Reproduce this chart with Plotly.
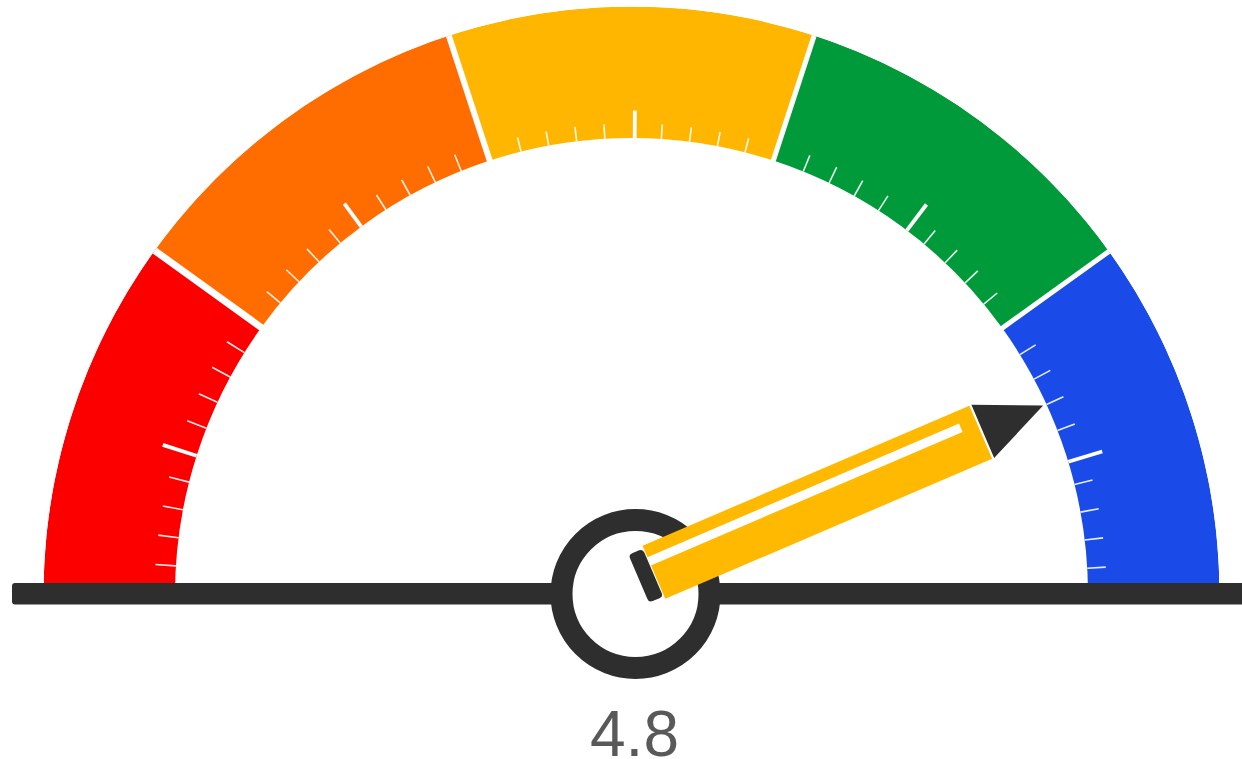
import math
import numpy as np
import plotly.graph_objects as go

# ---- data ----
band_edges = [180.0, 144.2, 108.1, 71.9, 35.7, 0.0]
band_colors = ["#FC0000", "#FF6D00", "#FFB600", "#009A3B", "#1A4BE8"]
separator_widths = [7, 6, 5, 5]
major_ticks = [162.3, 126.3, 89.6, 52.9, 16.9]
minor_centres = [162.2, 126.1, 89.8, 53.7, 17.5]
minor_steps = [-4, -3, -2, -1, 1, 2, 3, 4]
needle_value = 4.8
scale_max = 5.51

# ---- geometry (one axis unit is one pixel) ----
W, H = 1242, 759
CX, CY, R_OUT, R_IN = 631.5, 594.5, 588, 456.5
MINOR_DEG = 3.55
minor_radii = [477, 474, 471, 474, 475]
major_radii = [492, 485, 484, 489, 492]
DARK, PENCIL, TEXT = "#2E2E2E", "#FFB900", "#595959"
HUB_X, HUB_Y, HUB_R, HUB_W = 4.0, 0.5, 74, 22
LINE_X0, LINE_Y0, LINE_Y1 = -619.5, 11.5, -10.0
PIVOT = (22.4, 22.2)  # near end of the pencil, relative to the gauge centre


def needle_xy(along, across, ang):
    a = math.radians(ang)
    along, across = np.array(along, float), np.array(across, float)
    return (PIVOT[0] + along * math.cos(a) + across * math.sin(a),
            PIVOT[1] + along * math.sin(a) - across * math.cos(a))


def poly_path(along, across, ang):
    xs, ys = needle_xy(along, across, ang)
    return "M" + " L".join(f"{x:.2f},{y:.2f}" for x, y in zip(xs, ys)) + " Z"


def rounded_path(a0, a1, c0, c1, rad, ang):
    keys = [(a0 + rad, c0), (a1 - rad, c0), (a1, c0), (a1, c0 + rad), (a1, c1 - rad), (a1, c1),
            (a1 - rad, c1), (a0 + rad, c1), (a0, c1), (a0, c1 - rad), (a0, c0 + rad), (a0, c0)]
    xs, ys = needle_xy([k[0] for k in keys], [k[1] for k in keys], ang)
    p = list(zip(xs, ys))
    d = f"M{p[0][0]:.2f},{p[0][1]:.2f} "
    for l, q, e in [(1, 2, 3), (4, 5, 6), (7, 8, 9), (10, 11, 0)]:
        d += (f"L{p[l][0]:.2f},{p[l][1]:.2f} "
              f"Q{p[q][0]:.2f},{p[q][1]:.2f} {p[e][0]:.2f},{p[e][1]:.2f} ")
    return d + "Z"


angle = 180 * (1 - needle_value / scale_max)
fig = go.Figure()

# bands
for lo, hi, c in zip(band_edges[1:], band_edges[:-1], band_colors):
    fig.add_trace(go.Barpolar(r=[R_OUT - R_IN], base=[R_IN], theta=[(lo + hi) / 2], width=[hi - lo],
                              marker=dict(color=c, line=dict(width=0))))

# separators between bands
for t, w in zip(band_edges[1:-1], separator_widths):
    fig.add_trace(go.Scatterpolar(r=[R_IN - 4, R_OUT], theta=[t, t], mode="lines",
                                  line=dict(color="white", width=w)))

# ticks
minor_r, minor_t = [], []
for c, rm in zip(minor_centres, minor_radii):
    for s in minor_steps:
        minor_r += [R_IN, rm, None]
        minor_t += [c + s * MINOR_DEG, c + s * MINOR_DEG, None]
major_r, major_t = [], []
for m, rm in zip(major_ticks, major_radii):
    major_r += [R_IN, rm, None]
    major_t += [m, m, None]
fig.add_trace(go.Scatterpolar(r=minor_r, theta=minor_t, mode="lines",
                              line=dict(color="rgba(255,255,255,0.9)", width=1.6)))
fig.add_trace(go.Scatterpolar(r=major_r, theta=major_t, mode="lines",
                              line=dict(color="white", width=3.8)))

# invisible anchor so the pixel-scaled cartesian axes exist
fig.add_trace(go.Scatter(x=[0], y=[0], mode="markers", marker=dict(opacity=0), hoverinfo="skip"))

shapes = []
# base line, with slightly rounded left end
shapes.append(dict(type="path", xref="x", yref="y", line_width=0, fillcolor=DARK,
                   path=(f"M{W-CX+5},{LINE_Y1} L{LINE_X0+3},{LINE_Y1} Q{LINE_X0},{LINE_Y1} {LINE_X0},{LINE_Y1+3} "
                         f"L{LINE_X0},{LINE_Y0-3} Q{LINE_X0},{LINE_Y0} {LINE_X0+3},{LINE_Y0} L{W-CX+5},{LINE_Y0} Z")))
# hub ring
shapes.append(dict(type="circle", xref="x", yref="y",
                   x0=HUB_X - HUB_R, x1=HUB_X + HUB_R, y0=HUB_Y - HUB_R, y1=HUB_Y + HUB_R,
                   fillcolor="white", line=dict(color=DARK, width=HUB_W)))
# pencil: eraser, body, highlight, point
shapes.append(dict(type="path", xref="x", yref="y", line_width=0, fillcolor=DARK,
                   path=rounded_path(-16.5, -1, -26, 26, 4, angle)))
shapes.append(dict(type="path", xref="x", yref="y", line_width=0, fillcolor=PENCIL,
                   path=poly_path([0, 355.6, 355.6, 0], [-28.9, -28.9, 28.9, 28.9], angle)))
shapes.append(dict(type="path", xref="x", yref="y", line_width=0, fillcolor="white",
                   path=poly_path([0, 339, 339, 0], [-16.5, -16.5, -7.5, -7.5], angle)))
shapes.append(dict(type="path", xref="x", yref="y", line_width=0, fillcolor=DARK,
                   path=poly_path([357.8, 423.5, 357.8], [-28.9, 0, 28.9], angle)))

fig.update_layout(
    width=W, height=H, showlegend=False, paper_bgcolor="white", plot_bgcolor="white",
    margin=dict(l=0, r=0, t=0, b=0), shapes=shapes,
    xaxis=dict(range=[-CX, W - CX], visible=False, domain=[0, 1], fixedrange=True),
    yaxis=dict(range=[CY - H, CY], visible=False, domain=[0, 1], fixedrange=True),
    polar=dict(
        domain=dict(x=[(CX - R_OUT) / W, (CX + R_OUT) / W],
                    y=[(H - CY) / H, (H - CY + R_OUT) / H]),
        sector=[0, 180], bgcolor="rgba(0,0,0,0)",
        radialaxis=dict(range=[0, R_OUT], visible=False),
        angularaxis=dict(visible=False, direction="counterclockwise", rotation=0),
    ),
    annotations=[dict(text=str(needle_value), x=634 / W, y=(H - 734) / H, xref="paper", yref="paper",
                      xanchor="center", yanchor="middle", showarrow=False,
                      font=dict(family="Liberation Sans, Arial, sans-serif", size=64, color=TEXT))],
)

fig.write_html("out.html", config={"displayModeBar": False},
               post_script="document.body.style.margin='0';")
